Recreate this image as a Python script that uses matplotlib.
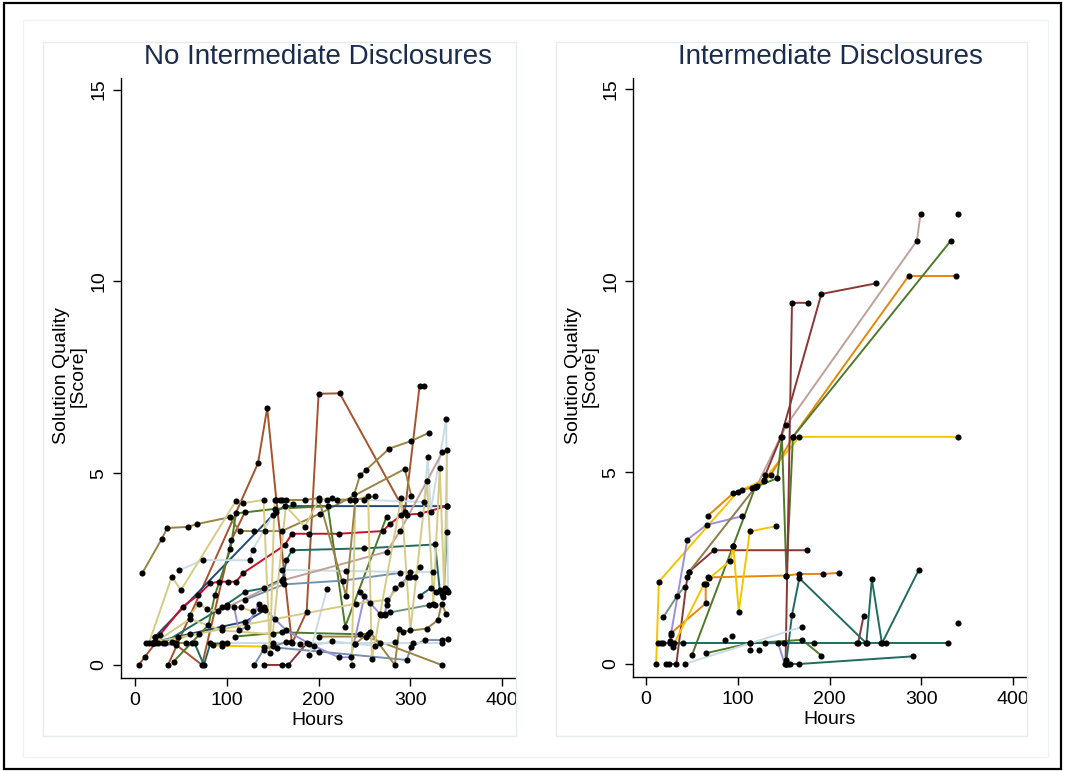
import numpy as np
import matplotlib
matplotlib.use('Agg')
import matplotlib.pyplot as plt
from matplotlib.patches import Rectangle

plt.rcParams['font.family'] = ['Liberation Sans', 'DejaVu Sans']

# colours used by the series
sienna = '#A8522B'
maroon = '#8B3535'
khaki = '#9A8444'
pale = '#D6CB86'
navy = '#1E4A78'
crimson = '#C8102E'
teal = '#1F6B60'
green = '#4F7A28'
lavender = '#9A90DA'
lightblue = '#C9DCE6'
rose = '#C0A098'
gold = '#F5C400'
orange = '#E8860A'
greyblue = '#7890B0'
greygreen = '#6E9480'
tan = '#8F7B4B'

# ---- No Intermediate Disclosures (hours, score per participant) ----
nd_hours = [
    [36, 134, 144, 154, 171, 187, 200, 223, 294, 310, 315],
    [4, 11, 22],
    [20, 45, 73, 105, 120],
    [140, 160, 167, 187],
    [8, 29, 35, 58, 67, 103, 114, 130, 142, 160, 201, 294, 301],
    [209, 220, 234, 239, 245, 252, 277, 301, 320],
    [22, 154, 163, 340],
    [22, 47, 95, 120, 142],
    [22, 27, 52, 69, 82, 92, 101, 110, 118, 163, 171, 190, 222, 270, 278, 290, 296, 310, 340],
    [30, 95, 120, 140, 161, 165, 171, 250, 327, 332, 336, 340],
    [42, 80, 87, 104, 110, 153, 210, 229, 274],
    [109, 160, 245, 254],
    [120, 162, 227, 289],
    [155, 200, 296, 301, 316, 334, 341],
    [267, 272, 278, 320, 327],
    [245, 256, 268, 272, 274, 283, 290, 297],
    [108, 113, 122, 135, 140, 152, 165, 190, 222, 235, 250],
    [240, 256, 283, 288, 292, 318, 330, 334, 339],
    [200, 252, 334],
    [48, 74, 125, 128, 150],
    [160, 230, 300, 325],
    [250, 315, 319, 322, 339, 341],
    [190, 209],
    [100, 150, 267, 303, 334],
    [100, 160, 274, 289, 335],
    [85, 95, 140, 150],
    [40, 60, 70],
    [15, 40, 50, 110, 118, 140, 147, 152, 158, 185, 200, 215],
    [236, 240, 254, 258, 290, 300, 318, 325, 332, 337, 340],
    [22, 241, 274, 300, 305, 310],
    [20, 60, 95, 150, 165, 172],
    [160, 185, 200, 230, 240, 262],
    [130, 140, 165],
    [65, 75, 82, 95],
    [12, 18, 25, 33, 45, 55, 62],
    [60, 70, 78, 90, 100, 115, 128, 136],
    [170, 180, 195, 215, 240, 262, 283],
    [310, 322, 328, 335, 338, 340],
]
nd_scores = [
    [0, 5.26, 6.7, 4.29, 0.56, 1.39, 7.07, 7.08, 4.0, 7.27, 7.27],
    [0, 0.22, 0.56],
    [0.56, 0.52, 0, 3.25, 4.0],
    [0, 0, 0, 0.56],
    [2.4, 3.28, 3.57, 3.6, 3.67, 3.85, 3.49, 3.49, 3.49, 3.49, 3.94, 5.11, 4.4],
    [4.31, 4.31, 4.31, 4.46, 4.94, 5.09, 5.64, 5.84, 6.05],
    [0.74, 4.0, 4.14, 4.14],
    [0.6, 0.74, 1.0, 1.13, 1.43],
    [0.74, 0.78, 1.52, 1.82, 2.13, 2.17, 2.17, 2.17, 2.4, 3.12, 3.42, 3.42, 3.42, 3.49, 3.68, 3.9, 3.92, 3.94, 4.14],
    [0.56, 1.5, 1.91, 2.0, 2.25, 2.73, 2.99, 3.04, 3.14, 1.95, 1.78, 3.47],
    [0.09, 1.04, 1.82, 3.03, 3.95, 4.07, 4.14, 1.0, 3.86],
    [0.74, 0.85, 0.8, 0.81],
    [1.7, 2.1, 2.2, 2.4],
    [0.45, 0.35, 0.13, 0.48, 0.65, 0.65, 0.68],
    [1.34, 1.34, 1.37, 1.56, 1.56],
    [1.9, 1.62, 1.3, 1.3, 1.56, 2.0, 2.1, 2.3],
    [1.5, 0.9, 1.0, 1.6, 1.5, 1.2, 0.9, 0.55, 0.2, 0.2, 1.8],
    [0.55, 0.87, 0, 0.95, 0.87, 0.95, 1.17, 1.6, 1.34],
    [0.74, 0.74, 0],
    [2.47, 2.73, 2.73, 3.0, 3.9],
    [2.48, 2.45, 2.42, 2.42],
    [4.3, 4.25, 5.43, 4.0, 6.4, 1.9],
    [0.26, 1.97],
    [0.56, 0.56, 0.56, 0.56, 0.56],
    [1.5, 2.2, 2.95, 3.5, 5.55],
    [0.52, 0.5, 0.48, 0.5],
    [0.6, 0.8, 0.8],
    [0.56, 2.3, 1.95, 4.28, 4.22, 4.3, 0.3, 4.3, 4.3, 3.6, 4.3, 4.35],
    [0, 4.31, 4.4, 0.15, 4.35, 0.9, 4.8, 1.6, 5.14, 1.9, 5.6],
    [0.6, 1.6, 1.7, 2.3, 2.3, 2.56],
    [0.56, 1.2, 0.9, 0.8, 4.3, 4.2],
    [4.3, 4.3, 4.35, 1.8, 4.3, 4.4],
    [0, 0.4, 0.6],
    [0.56, 0, 0.56, 0.56],
    [0.56, 0.56, 0.56, 0.56, 0.56, 0.56, 0.56],
    [1.3, 1.6, 1.45, 1.4, 1.55, 1.5, 1.4, 1.45],
    [0.6, 0.55, 0.5, 0.62, 0.55, 0.5, 0.6],
    [1.8, 2.0, 1.9, 1.85, 2.0, 1.95],
]
nd_colors = [sienna, sienna, sienna, maroon, khaki, khaki, navy, navy, crimson, teal,
             green, green, greyblue, greyblue, greygreen, lavender, lavender, khaki, khaki,
             lightblue, lightblue, lightblue, lightblue, lightblue, rose, gold, orange,
             pale, pale, pale, pale, khaki, greyblue, teal, khaki, pale, lightblue, teal]

# ---- Intermediate Disclosures ----
d_hours = [
    [11, 14, 100, 128, 167, 340],
    [67, 95, 105, 115, 121, 128, 136, 160, 286, 338],
    [120, 153, 295, 299],
    [50, 95, 119, 143, 148, 153, 160, 332],
    [65, 113, 170, 191],
    [25, 33, 45, 47, 74, 175],
    [130, 147, 191, 251],
    [152, 159, 176],
    [231, 237],
    [26, 27, 45, 66, 105],
    [130, 144, 151],
    [13, 16, 19, 26, 30, 40, 113, 150, 183, 230, 241, 256, 261, 329],
    [153, 159, 167, 240, 246, 257, 297],
    [153, 155, 157, 167, 291],
    [42, 170],
    [19, 34, 42],
    [27, 65, 65, 68, 153, 167, 193, 210],
    [29, 63, 69, 92, 95, 101, 113, 142],
    [47, 119],
]
d_scores = [
    [0, 2.15, 4.5, 4.8, 5.93, 5.93],
    [3.86, 4.46, 4.55, 4.6, 4.65, 4.78, 4.93, 5.93, 10.13, 10.13],
    [4.62, 6.24, 11.05, 11.74],
    [0.23, 3.09, 4.62, 4.85, 5.93, 2.3, 5.93, 11.05],
    [0.28, 0.54, 0.63, 0.22],
    [0, 0, 2.28, 2.41, 2.97, 2.97],
    [4.94, 5.93, 9.66, 9.94],
    [0, 9.43, 9.43],
    [0.54, 1.25],
    [0.6, 0.76, 3.25, 3.63, 3.86],
    [0.54, 0.54, 0],
    [0.54, 0.54, 0.54, 0.54, 0.54, 0.54, 0.54, 0.54, 0.54, 0.54, 0.54, 0.54, 0.54, 0.54],
    [0.1, 1.28, 2.24, 0.54, 2.21, 0.54, 2.45],
    [0, 0, 0, 0, 0.2],
    [0, 0.97],
    [1.23, 1.78, 2.02],
    [0.8, 1.58, 2.09, 2.26, 2.31, 2.35, 2.35, 2.38],
    [0.45, 2.08, 2.24, 2.7, 3.09, 1.37, 3.46, 3.6],
    [2.41, 4.61],
]
d_colors = [gold, orange, rose, green, green, maroon, maroon, maroon, maroon,
            lavender, lavender, teal, teal, teal, lightblue, greygreen, orange, gold, tan]

# single observations
d_single_hours = [340, 340, 86, 94, 113, 123, 22]
d_single_scores = [1.06, 11.74, 0.63, 0.74, 0.37, 0.37, 0]

W, H = 1065, 771
fig = plt.figure(figsize=(W / 100, H / 100), dpi=100)

def fx(px):
    return px / W

def fy(py):
    return 1 - py / H

# frames: black outer border, light graph region, light subgraph boxes
fig.add_artist(Rectangle((fx(4), fy(769)), fx(1057), 766 / H, transform=fig.transFigure,
                         fill=False, ec='black', lw=1.6))
fig.add_artist(Rectangle((fx(23), fy(757)), fx(1025), 737 / H, transform=fig.transFigure,
                         fill=False, ec='#EEF3F4', lw=1.0))
for x0, x1 in [(43, 516), (556, 1027)]:
    fig.add_artist(Rectangle((fx(x0), fy(736)), fx(x1 - x0), 694 / H, transform=fig.transFigure,
                             fill=False, ec='#E3ECEE', lw=1.0))

panels = [
    ((121, 515, 78, 678), (-15.3, 414), nd_hours, nd_scores, nd_colors, [], [],
     'No Intermediate Disclosures'),
    ((633, 1027, 78, 677), (-14.2, 415), d_hours, d_scores, d_colors, d_single_hours,
     d_single_scores, 'Intermediate Disclosures'),
]

for (l, r, t, b), xlim, hrs, scs, cols, sh, ss, title in panels:
    ax = fig.add_axes([fx(l), fy(b), fx(r - l), (b - t) / H])
    for x, y, c in zip(hrs, scs, cols):
        ax.plot(x, y, color=c, lw=1.4, zorder=2)
    for x, y in zip(hrs, scs):
        ax.plot(x, y, 'o', color='black', ms=4.4, mec='none', zorder=3)
    if sh:
        ax.plot(sh, ss, 'o', color='black', ms=4.4, mec='none', zorder=3)
    ax.set_xlim(*xlim)
    ax.set_ylim(-0.34, 15.3)
    ax.set_xticks([0, 100, 200, 300, 400])
    ax.set_yticks([0, 5, 10, 15])
    ax.spines['top'].set_visible(False)
    ax.spines['right'].set_visible(False)
    for s in ['left', 'bottom']:
        ax.spines[s].set_linewidth(1.0)
    ax.tick_params(direction='out', length=6, width=1.0, labelsize=14, pad=4)
    plt.setp(ax.get_yticklabels(), rotation=90, va='center')
    ax.set_xlabel('Hours', fontsize=14, labelpad=2)
    fig.text(fx((l + r) / 2), fy(57), title, fontsize=20, color='#1A2B4C',
             ha='center', va='center')
    fig.text(fx(l - 51), fy(376), 'Solution Quality\n[Score]', fontsize=14, rotation=90,
             ha='center', va='center', multialignment='center', linespacing=1.0)

fig.savefig('out.png', dpi=100)
